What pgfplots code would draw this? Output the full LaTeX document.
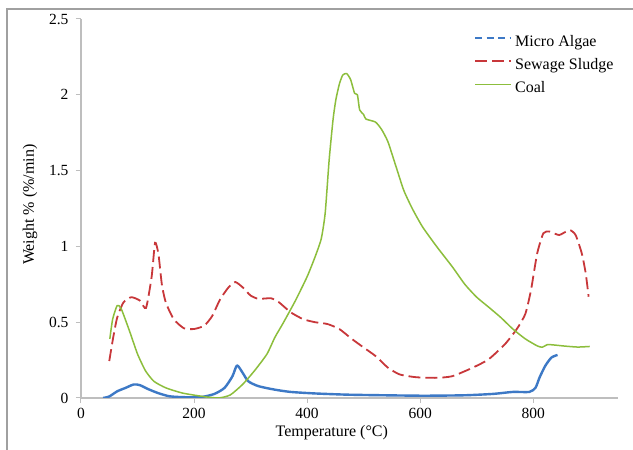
\documentclass[border=0pt]{standalone}
\usepackage{fontspec}
\setmainfont{Liberation Serif}
\usepackage{pgfplots}
\pgfplotsset{compat=1.18}

\definecolor{algae}{HTML}{3D79C6}
\definecolor{sludge}{HTML}{C8373A}
\definecolor{coal}{HTML}{8CBE3C}
\definecolor{axisgray}{HTML}{BEBEBE}
\definecolor{framegray}{HTML}{A0A0A0}

\begin{document}
\begin{tikzpicture}
\useasboundingbox (0,0) rectangle (633pt,450pt);
\fill[white] (0,0) rectangle (633pt,450pt);
\draw[framegray, line width=2pt] (7pt,-20pt) rectangle (660pt,441pt);
\begin{axis}[
    at={(81pt,52pt)}, anchor=south west,
    scale only axis, width=537pt, height=379pt,
    xmin=0, xmax=950, ymin=0, ymax=2.5,
    axis lines=left,
    axis line style={-, draw=axisgray, line width=1.6pt},
    xtick={0,200,400,600,800},
    ytick={0,0.5,1,1.5,2,2.5},
    tick align=outside, major tick length=5pt,
    tick style={axisgray, line width=1pt},
    /pgf/number format/assume math mode=true,
    ticklabel style={font=\fontsize{15.5}{17}\selectfont},
    xticklabel style={yshift=-2pt},
    yticklabel style={xshift=-4pt},
    xlabel={Temperature (°C)},
    ylabel={Weight \% (\%/min)},
    every axis x label/.style={at={(axis description cs:0.467,-0.092)}, anchor=center,
        font=\fontsize{16}{18}\selectfont},
    every axis y label/.style={at={(axis description cs:-0.095,0.51)}, rotate=90, anchor=center,
        font=\fontsize{16}{18}\selectfont},
    legend cell align=left,
    legend style={draw=none, fill=none, inner sep=0pt,
        at={(0.7318,0.960)}, anchor=north west,
        font=\fontsize{16}{18}\selectfont,
        nodes={inner sep=0pt, text height=12pt, text depth=4pt},
        row sep=7pt},
    /tikz/every odd column/.append style={column sep=3pt},
    legend image code/.code={\draw[#1] (0pt,4pt) -- (36pt,4pt);},
]
\addplot[algae, line width=2.4pt, line join=round, smooth, tension=0.4,
    legend image code/.code={\draw[algae, line width=2pt, dash pattern=on 7pt off 4.5pt] (0pt,4pt) -- (36pt,4pt);}]
coordinates {
(39,0.0)(50,0.01)(64,0.044)(79,0.067)(93,0.089)(104,0.085)(118,0.06)
(136,0.033)(157,0.011)(186,0.005)(214,0.007)(236,0.027)(254,0.067)
(268,0.144)(276,0.215)(286,0.166)(296,0.11)(314,0.078)(343,0.055)
(371,0.04)(414,0.03)(471,0.022)(536,0.018)(607,0.015)(679,0.018)
(729,0.027)(764,0.04)(793,0.04)(804,0.067)(811,0.133)(821,0.21)
(832,0.266)(843,0.284)
};
\addlegendentry{Micro Algae}
\addplot[sludge, line width=1.8pt, dash pattern=on 12pt off 5pt, smooth, tension=0.35]
coordinates {
(50,0.244)(57,0.40)(64,0.53)(75,0.63)(89,0.665)(104,0.643)(115,0.594)
(125,0.80)(131,1.024)(137,0.95)(143,0.75)(150,0.63)(164,0.52)(182,0.46)
(200,0.455)(218,0.477)(232,0.54)(246,0.65)(261,0.73)(273,0.765)
(286,0.73)(300,0.676)(314,0.654)(336,0.658)(350,0.632)(371,0.565)
(393,0.52)(414,0.50)(436,0.488)(457,0.455)(479,0.39)(500,0.333)
(521,0.277)(543,0.20)(564,0.155)(593,0.137)(629,0.133)(657,0.144)
(693,0.20)(721,0.255)(750,0.355)(771,0.455)(786,0.554)(796,0.71)
(807,0.953)(818,1.087)(829,1.098)(846,1.075)(864,1.108)(875,1.075)
(886,0.953)(893,0.82)(898,0.668)
};
\addlegendentry{Sewage Sludge}
\addplot[coal, line width=1.5pt, line join=round, smooth, tension=0.35]
coordinates {
(51,0.39)(56,0.52)(64,0.61)(71,0.59)(86,0.44)(100,0.29)(114,0.18)
(129,0.11)(150,0.067)(179,0.033)(214,0.011)(243,0.0)(264,0.02)
(286,0.09)(307,0.18)(329,0.29)(343,0.40)(357,0.49)(379,0.64)
(400,0.80)(414,0.93)(425,1.05)(432,1.22)(439,1.57)(446,1.84)
(451,1.97)(457,2.07)(463,2.13)(470,2.14)(477,2.10)(484,2.01)
(489,2.00)(493,1.90)(500,1.87)(504,1.84)(521,1.82)(532,1.77)
(543,1.69)(557,1.53)(571,1.37)(586,1.25)(604,1.13)(629,1.00)
(657,0.865)(679,0.75)(700,0.665)(721,0.60)(743,0.53)(764,0.455)
(786,0.39)(807,0.344)(816,0.335)(825,0.352)(836,0.35)(857,0.342)
(879,0.336)(900,0.34)
};
\addlegendentry{Coal}
\end{axis}
\end{tikzpicture}
\end{document}
